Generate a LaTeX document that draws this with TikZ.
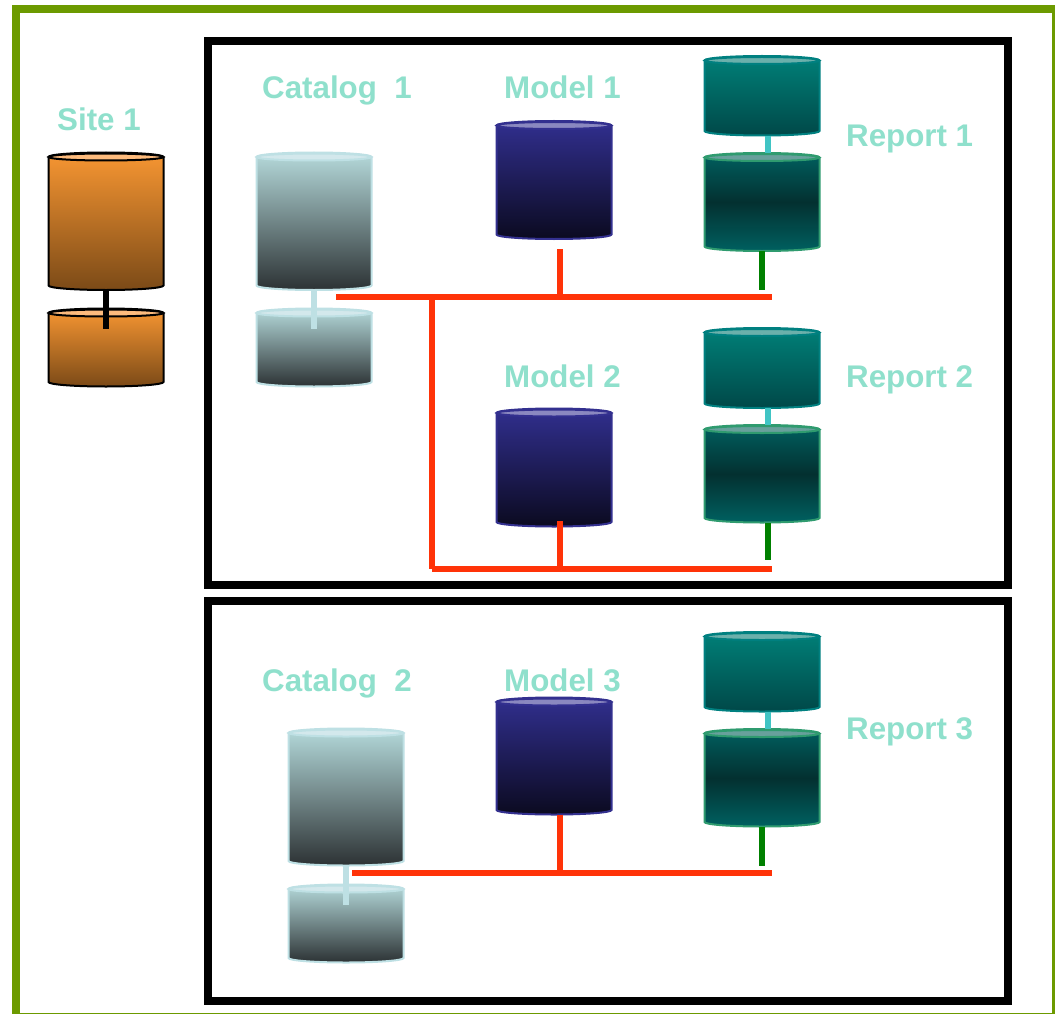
\documentclass[tikz,border=0pt]{standalone}
\usepackage{fontspec}
\setmainfont{Liberation Sans}
\definecolor{lblc}{HTML}{8FE0CC}
\definecolor{greenf}{HTML}{6C9A00}
\definecolor{redl}{HTML}{FF3308}
\definecolor{greenl}{HTML}{008000}
\definecolor{tealc}{HTML}{40C4C4}
\definecolor{palec}{HTML}{BEE0E4}
\tikzset{
  lbl/.style={font=\bfseries\fontsize{31.3}{33}\selectfont,text=lblc,anchor=base west,inner sep=0pt},
  frameg/.style={draw=greenf,line width=8pt},
  frameb/.style={draw=black,line width=8pt},
  bus/.style={draw=redl,line width=6pt},
  stemblack/.style={draw=black,line width=6pt},
  stempale/.style={draw=palec,line width=6pt},
  stemteal/.style={draw=tealc,line width=6pt},
  stemgreen/.style={draw=greenl,line width=6pt},
  bodyO/.style={draw=black,line width=2pt,top color={rgb,255:red,247;green,150;blue,50},bottom color={rgb,255:red,123;green,74;blue,23}},
  capO/.style={draw=black,line width=2pt,fill={rgb,255:red,253;green,187;blue,125}},
  bodyC/.style={draw=palec,line width=2pt,top color={rgb,255:red,181;green,218;blue,219},bottom color={rgb,255:red,44;green,50;blue,52}},
  capC/.style={draw=palec,line width=2pt,fill={rgb,255:red,211;green,232;blue,236}},
  bodyM/.style={draw={rgb,255:red,51;green,48;blue,143},line width=2pt,top color={rgb,255:red,49;green,47;blue,143},bottom color={rgb,255:red,11;green,10;blue,32}},
  capM/.style={draw={rgb,255:red,51;green,48;blue,143},line width=2pt,fill={rgb,255:red,138;green,136;blue,192}},
  bodyU/.style={draw={rgb,255:red,0;green,128;blue,128},line width=2pt,top color={rgb,255:red,0;green,128;blue,120},bottom color={rgb,255:red,0;green,72;blue,72}},
  capU/.style={draw={rgb,255:red,0;green,128;blue,128},line width=2pt,fill={rgb,255:red,107;green,176;blue,171}},
  bodyL/.style={draw={rgb,255:red,47;green,155;blue,111},line width=2pt,top color={rgb,255:red,0;green,96;blue,96},bottom color={rgb,255:red,0;green,96;blue,96},middle color={rgb,255:red,3;green,48;blue,48}},
  capL/.style={draw={rgb,255:red,47;green,155;blue,111},line width=2pt,fill={rgb,255:red,104;green,160;blue,156}},
}
% name, kind, centre x, top-cap y, bottom-rim y
\newcommand{\cyl}[5]{%
  \path[body#2] (#3-57.5,#4) -- (#3-57.5,#5)
     arc[start angle=180,end angle=360,x radius=57.5pt,y radius=4.5pt]
     -- (#3+57.5,#4)
     arc[start angle=0,end angle=180,x radius=57.5pt,y radius=4.5pt] -- cycle;
  \path[cap#2] (#3,#4) ellipse[x radius=57.5pt,y radius=3.5pt];
  \coordinate (#1) at (#3,#4);
}
\begin{document}
\begin{tikzpicture}[x=1pt,y=-1pt]
\useasboundingbox (0,0) rectangle (1055,1014);
\clip (0,0) rectangle (1055,1014);
\fill[white] (0,0) rectangle (1055,1014);
\path[frameg] (16,9) rectangle (1056,1017);
\path[frameb] (208,41) rectangle (1008,585);
\path[frameb] (208,601) rectangle (1008,1001);

\cyl{siteA}{O}{106}{157}{285.5}
\cyl{siteB}{O}{106}{313}{382}
\cyl{catA}{C}{314}{157}{285.5}
\cyl{catB}{C}{314}{313}{382}
\cyl{catC}{C}{346}{733}{861}
\cyl{catD}{C}{346}{889}{958}
\cyl{modA}{M}{554}{125.5}{234.5}
\cyl{modB}{M}{554}{413}{522}
\cyl{modC}{M}{554}{702}{810}
\cyl{repA}{U}{762}{60.5}{131}
\cyl{repB}{L}{762}{157.5}{246.5}
\cyl{repC}{U}{762}{332.5}{403.5}
\cyl{repD}{L}{762}{429.5}{518}
\cyl{repE}{U}{762}{636.5}{707}
\cyl{repF}{L}{762}{733.5}{822}

% connector ends
\coordinate (s1a) at (106,290); \coordinate (s1b) at (106,329);
\coordinate (c1a) at (314,290); \coordinate (c1b) at (314,329);
\coordinate (c2a) at (346,866); \coordinate (c2b) at (346,905);
\coordinate (r1a) at (768,136); \coordinate (r1b) at (768,153);
\coordinate (r2a) at (768,408); \coordinate (r2b) at (768,425);
\coordinate (r3a) at (768,712); \coordinate (r3b) at (768,729);
\coordinate (g1a) at (762,251); \coordinate (g1b) at (762,290);
\coordinate (g2a) at (768,523); \coordinate (g2b) at (768,560);
\coordinate (g3a) at (762,827); \coordinate (g3b) at (762,866);
\coordinate (b1l) at (336,297); \coordinate (b1r) at (772,297);
\coordinate (b2l) at (432,569); \coordinate (b2r) at (772,569);
\coordinate (b3l) at (352,873); \coordinate (b3r) at (772,873);
\coordinate (j0) at (432,297);
\coordinate (j1a) at (560,249); \coordinate (j1b) at (560,297);
\coordinate (j2a) at (560,521); \coordinate (j2b) at (560,569);
\coordinate (j3a) at (560,815); \coordinate (j3b) at (560,873);

\draw[stemblack] (s1a) -- (s1b);
\draw[stempale] (c1a) -- (c1b);
\draw[stempale] (c2a) -- (c2b);
\draw[stemteal] (r1a) -- (r1b);
\draw[stemteal] (r2a) -- (r2b);
\draw[stemteal] (r3a) -- (r3b);
\draw[stemgreen] (g1a) -- (g1b);
\draw[stemgreen] (g2a) -- (g2b);
\draw[stemgreen] (g3a) -- (g3b);
\draw[bus] (b1l) -- (b1r);
\draw[bus] (b2l) -- (b2r);
\draw[bus] (b3l) -- (b3r);
\draw[bus] (j0) -- (b2l);
\draw[bus] (j1a) -- (j1b);
\draw[bus] (j2a) -- (j2b);
\draw[bus] (j3a) -- (j3b);

\node[lbl] (tsite) at (57,131) {Site 1};
\node[lbl] (tcat1) at (262,99) {Catalog\ \ 1};
\node[lbl] (tcat2) at (262,691) {Catalog\ \ 2};
\node[lbl] (tmod1) at (504,99) {Model 1};
\node[lbl] (tmod2) at (504,387) {Model 2};
\node[lbl] (tmod3) at (504,691) {Model 3};
\node[lbl] (trep1) at (846,147) {Report 1};
\node[lbl] (trep2) at (846,387) {Report 2};
\node[lbl] (trep3) at (846,739) {Report 3};
\end{tikzpicture}
\end{document}
